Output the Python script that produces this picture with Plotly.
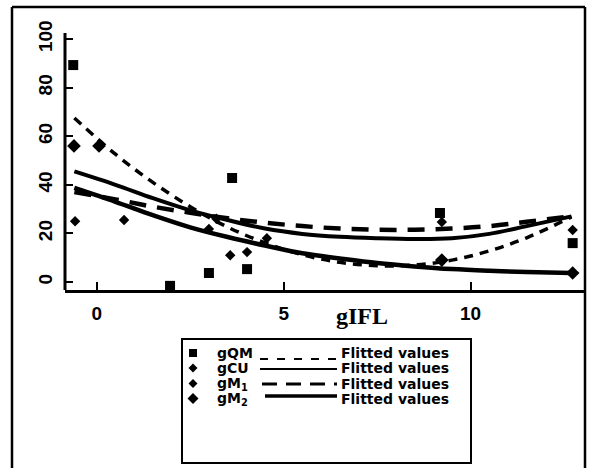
import plotly.graph_objects as go

# ---------------- data ----------------
x_gQM = [-0.63, 1.96, 3.00, 3.62, 4.02, 9.18, 12.73]
y_gQM = [89.3, -1.6, 3.7, 42.8, 5.3, 28.4, 16.0]

x_gCU = [-0.58, 3.00, 4.55, 9.23, 12.73]
y_gCU = [25.0, 21.8, 18.0, 24.7, 21.4]

x_gM1 = [0.73, 3.20, 3.57, 4.02]
y_gM1 = [25.5, 26.0, 11.0, 12.3]

x_gM2 = [-0.61, 0.06, 9.23, 12.73]
y_gM2 = [56.0, 56.0, 9.0, 3.7]

x_fit = [-0.6, 0.5, 1.5, 2.5, 3.5, 4.5, 5.5, 6.5, 7.5, 8.5, 9.5, 10.5, 11.5, 12.7]
fit_gQM = [67.5, 52.6, 41.0, 31.0, 22.6, 16.1, 11.2, 8.1, 6.7, 7.0, 9.0, 12.8, 18.2, 26.8]
fit_gCU = [45.5, 40.0, 34.5, 29.5, 25.5, 22.0, 19.8, 18.6, 18.0, 17.7, 18.0, 19.8, 23.0, 27.0]
fit_gM1 = [37.0, 34.0, 31.0, 28.5, 26.2, 24.4, 23.0, 22.0, 21.5, 21.5, 22.0, 23.0, 24.8, 27.0]
fit_gM2 = [38.7, 33.0, 27.5, 22.5, 18.5, 15.0, 11.8, 9.7, 7.8, 6.4, 5.3, 4.6, 4.1, 3.7]

x_ticks = [0, 5, 10]
y_ticks = [0, 20, 40, 60, 80, 100]
x_title = "gIFL"
legend_names = ["gQM", "gCU", "gM<sub>1</sub>", "gM<sub>2</sub>"]
fit_label = "Flitted values"

# ---------------- layout geometry ----------------
W, H = 592, 468
L, R, T, B = 65, 585, 7, 290          # plot area in pixels
X_RANGE = [-0.85, 13.06]
Y_RANGE = [-3.3, 113.2]


def px(xp):
    return (xp - L) / (R - L)


def py(yp):
    return (B - yp) / (B - T)


SANS = "Liberation Sans, Arial, sans-serif"
LEG = "DejaVu Sans, Verdana, sans-serif"

fig = go.Figure()

# fitted curves
fig.add_trace(go.Scatter(x=x_fit, y=fit_gQM, mode="lines", line=dict(color="black", width=3.5, dash="9px,7px", shape="spline"), showlegend=False))
fig.add_trace(go.Scatter(x=x_fit, y=fit_gCU, mode="lines", line=dict(color="black", width=4, shape="spline"), showlegend=False))
fig.add_trace(go.Scatter(x=x_fit, y=fit_gM1, mode="lines", line=dict(color="black", width=4.5, dash="17px,11px", shape="spline"), showlegend=False))
fig.add_trace(go.Scatter(x=x_fit, y=fit_gM2, mode="lines", line=dict(color="black", width=4.5, shape="spline"), showlegend=False))

# points
fig.add_trace(go.Scatter(x=x_gQM, y=y_gQM, mode="markers", marker=dict(symbol="square", size=10, color="black"), showlegend=False))
fig.add_trace(go.Scatter(x=x_gCU, y=y_gCU, mode="markers", marker=dict(symbol="diamond", size=8, color="black"), showlegend=False))
fig.add_trace(go.Scatter(x=x_gM1, y=y_gM1, mode="markers", marker=dict(symbol="diamond", size=8, color="black"), showlegend=False))
fig.add_trace(go.Scatter(x=x_gM2, y=y_gM2, mode="markers", marker=dict(symbol="diamond", size=10.5, color="black"), showlegend=False))

shapes = []
frame = dict(color="black", width=2.5)
# outer frame: left, top, right (the bottom edge lies below the page)
shapes.append(dict(type="line", xref="paper", yref="paper", x0=px(12), x1=px(12), y0=py(470), y1=py(7), line=frame))
shapes.append(dict(type="line", xref="paper", yref="paper", x0=px(12), x1=px(585), y0=py(7), y1=py(7), line=frame))
shapes.append(dict(type="line", xref="paper", yref="paper", x0=px(585), x1=px(585), y0=py(470), y1=py(7), line=frame))
# y axis line (only up to just above 100)
shapes.append(dict(type="line", xref="paper", yref="y", x0=0, x1=0, y0=Y_RANGE[0], y1=102.5,
                   line=dict(color="black", width=3)))
# legend box
shapes.append(dict(type="rect", xref="paper", yref="paper", x0=px(182), x1=px(471), y0=py(463), y1=py(339),
                   line=dict(color="black", width=2)))

# legend line samples
leg_rows = [353, 368, 383.5, 398.5]
leg_lines = [
    dict(y=359, x0=260, x1=336, width=2, dash="8px,9px"),
    dict(y=369, x0=260, x1=337, width=2, dash="solid"),
    dict(y=384, x0=262, x1=337, width=3, dash="15px,9px"),
    dict(y=396, x0=265, x1=337, width=3.5, dash="solid"),
]
for ln in leg_lines:
    shapes.append(dict(type="line", xref="paper", yref="paper", x0=px(ln["x0"]), x1=px(ln["x1"]),
                       y0=py(ln["y"]), y1=py(ln["y"]), line=dict(color="black", width=ln["width"], dash=ln["dash"])))

# legend marker glyphs
mx = 193
s = 4
shapes.append(dict(type="rect", xref="paper", yref="paper", x0=px(mx - s), x1=px(mx + s),
                   y0=py(leg_rows[0] + s), y1=py(leg_rows[0] - s), line=dict(width=0), fillcolor="black"))
for yc, r in zip(leg_rows[1:], [4.5, 4.5, 5.5]):
    path = "M{},{} L{},{} L{},{} L{},{} Z".format(px(mx - r), py(yc), px(mx), py(yc - r), px(mx + r), py(yc), px(mx), py(yc + r))
    shapes.append(dict(type="path", xref="paper", yref="paper", path=path, line=dict(width=0), fillcolor="black"))

annotations = []
for yc, name in zip(leg_rows, legend_names):
    annotations.append(dict(xref="paper", yref="paper", x=px(215), y=py(yc), xanchor="left", yanchor="middle",
                            text="<b>" + name + "</b>", showarrow=False,
                            font=dict(family=LEG, size=14, color="black")))
    annotations.append(dict(xref="paper", yref="paper", x=px(339), y=py(yc), xanchor="left", yanchor="middle",
                            text="<b>" + fit_label + "</b>", showarrow=False,
                            font=dict(family=LEG, size=14, color="black")))
# x-axis title
annotations.append(dict(xref="paper", yref="paper", x=px(362), y=py(316), xanchor="center", yanchor="middle",
                        text="<b>" + x_title + "</b>", showarrow=False,
                        font=dict(family="Liberation Serif, Times New Roman, serif", size=24, color="black")))

fig.update_layout(
    width=W, height=H, autosize=False,
    margin=dict(l=L, r=W - R, t=T, b=H - B, pad=0),
    paper_bgcolor="white", plot_bgcolor="white",
    shapes=shapes, annotations=annotations,
    showlegend=False,
)
fig.update_xaxes(range=X_RANGE, tickvals=x_ticks, ticktext=["<b>%d</b>" % v for v in x_ticks],
                 ticks="inside", ticklen=8, tickwidth=2, tickcolor="black",
                 showline=True, linewidth=3, linecolor="black", showgrid=False, zeroline=False,
                 ticklabelstandoff=4,
                 tickfont=dict(family=SANS, size=19, color="black"))
fig.update_yaxes(range=Y_RANGE, tickvals=y_ticks, ticktext=["<b>%d</b>" % v for v in y_ticks],
                 ticks="inside", ticklen=8, tickwidth=2, tickcolor="black",
                 showline=False, showgrid=False, zeroline=False, tickangle=-90,
                 ticklabelstandoff=8,
                 tickfont=dict(family=SANS, size=19, color="black"))

fig.write_html("out.html", config={"displayModeBar": False},
               post_script="document.body.style.margin='0';document.body.style.overflow='hidden';")
